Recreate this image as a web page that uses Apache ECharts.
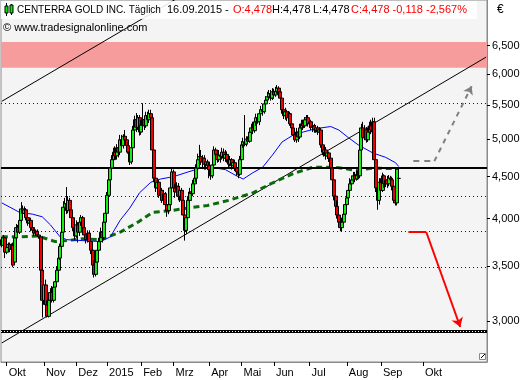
<!DOCTYPE html>
<html><head><meta charset="utf-8">
<script src="https://cdn.jsdelivr.net/npm/echarts@6/dist/echarts.min.js"></script>
<style>html,body{margin:0;padding:0;background:#fff}#c{width:529px;height:380px}</style>
</head><body><div id="c"></div>
<script>
// ---------- data ----------
const startDate = '2014-09-26';
const lastDate = '2015-09-16';
const totalSlots = 300;
const lastLabelSlot = 262;
const holidays = ['2014-12-24','2014-12-25','2014-12-26','2014-12-31','2015-01-01','2015-04-03','2015-04-06','2015-05-01'];
const monthNames = ['Jan','Feb','Mrz','Apr','Mai','Jun','Jul','Aug','Sep','Okt','Nov','Dez'];
const yTicks = [3.0,3.5,4.0,4.5,5.0,5.5,6.0,6.5];
const priceMin = 2.674, priceMax = 7.39;

// [open, close, low, high]
const ohlc = [
[3.77,3.71,3.69,3.80],[3.71,3.79,3.69,3.82],[3.79,3.64,3.58,3.80],[3.64,3.69,3.62,3.72],[3.69,3.72,3.66,3.74],
[3.72,3.67,3.64,3.74],[3.67,3.71,3.65,3.73],[3.71,3.51,3.49,3.74],[3.54,3.79,3.52,3.82],[3.79,3.90,3.77,3.94],
[3.90,3.85,3.82,3.93],[3.85,3.98,3.83,4.01],[3.98,4.11,3.96,4.19],[4.11,4.06,4.03,4.15],[4.06,4.10,4.04,4.14],
[4.10,4.01,3.98,4.12],[4.01,3.95,3.92,4.04],[3.95,3.98,3.92,4.01],[3.98,3.90,3.86,4.01],[3.90,3.87,3.84,3.92],
[3.87,3.84,3.81,3.90],[3.84,3.86,3.81,3.88],[3.86,3.82,3.80,3.88],[3.82,3.80,3.78,3.85],[3.80,3.46,3.41,3.82],
[3.46,3.18,3.03,3.51],[3.18,3.32,3.14,3.46],[3.32,3.14,3.09,3.37],[3.14,3.04,3.03,3.18],[3.04,3.18,3.03,3.22],
[3.18,3.25,3.15,3.29],[3.25,3.18,3.16,3.31],[3.18,3.30,3.16,3.33],[3.30,3.35,3.27,3.38],[3.35,3.46,3.33,3.50],
[3.46,3.58,3.43,3.62],[3.58,3.70,3.56,3.73],[3.70,3.85,3.68,3.88],[3.85,4.13,3.83,4.20],[4.13,4.17,4.05,4.24],
[4.17,4.09,4.05,4.37],[4.09,4.21,4.06,4.26],[4.21,4.10,4.08,4.24],[4.10,4.01,3.97,4.12],[4.01,3.90,3.86,4.04],
[3.90,3.81,3.77,3.93],[3.81,3.93,3.79,3.98],[3.93,3.85,3.74,3.96],[3.85,3.96,3.81,4.01],[3.96,4.01,3.92,4.04],
[4.01,3.90,3.85,4.03],[3.90,3.82,3.79,3.93],[3.82,3.77,3.73,3.85],[3.77,3.84,3.74,3.87],[3.84,3.75,3.70,3.87],
[3.75,3.66,3.62,3.79],[3.66,3.51,3.46,3.69],[3.51,3.42,3.39,3.56],[3.42,3.54,3.40,3.61],[3.54,3.66,3.50,3.70],
[3.66,3.75,3.62,3.79],[3.75,3.85,3.71,3.90],[3.85,3.79,3.74,3.91],[3.79,3.96,3.77,4.04],[3.96,4.06,3.92,4.10],
[4.06,4.27,4.03,4.31],[4.27,4.46,4.24,4.51],[4.46,4.61,4.41,4.66],[4.61,4.72,4.56,4.78],[4.72,4.82,4.68,4.88],
[4.82,4.77,4.72,4.90],[4.77,4.88,4.72,4.93],[4.88,4.82,4.75,4.99],[4.82,4.99,4.78,5.06],[4.99,4.91,4.85,5.06],
[4.91,5.04,4.87,5.07],[5.04,4.99,4.92,5.13],[4.99,4.91,4.88,5.04],[4.91,4.82,4.80,4.96],[4.82,4.69,4.65,4.88],
[4.69,4.88,4.66,4.93],[4.88,5.13,4.85,5.19],[5.13,5.28,5.09,5.34],[5.28,5.17,5.10,5.38],[5.17,5.31,5.13,5.35],
[5.31,5.10,5.05,5.35],[5.10,5.20,5.06,5.28],[5.20,5.28,5.16,5.53],[5.28,5.19,5.13,5.34],[5.19,5.34,5.16,5.40],
[5.34,5.28,5.23,5.40],[5.28,5.37,5.23,5.43],[5.37,5.31,5.25,5.43],[5.31,4.85,4.82,5.34],[4.85,4.48,4.43,4.90],
[4.48,4.36,4.31,4.56],[4.36,4.43,4.29,4.48],[4.43,4.27,4.24,4.46],[4.27,4.33,4.21,4.38],[4.33,4.21,4.18,4.36],
[4.21,4.29,4.16,4.33],[4.29,4.16,4.10,4.31],[4.16,4.09,4.02,4.21],[4.09,4.16,4.05,4.21],[4.16,4.36,4.13,4.41],
[4.36,4.56,4.33,4.62],[4.56,4.36,4.31,4.59],[4.36,4.31,4.24,4.41],[4.31,4.38,4.26,4.43],[4.38,4.26,4.21,4.42],
[4.26,4.33,4.19,4.38],[4.33,4.21,4.17,4.36],[4.21,4.04,3.98,4.24],[4.04,3.87,3.76,4.07],[3.87,4.01,3.83,4.05],
[4.01,4.21,3.96,4.26],[4.21,4.31,4.16,4.36],[4.31,4.29,4.21,4.38],[4.29,4.41,4.26,4.46],[4.41,4.48,4.36,4.53],
[4.48,4.61,4.43,4.66],[4.61,4.72,4.56,4.80],[4.72,4.76,4.66,4.92],[4.76,4.69,4.65,4.85],[4.69,4.74,4.61,4.78],
[4.74,4.66,4.59,4.78],[4.66,4.69,4.59,4.72],[4.69,4.64,4.59,4.72],[4.64,4.59,4.48,4.69],[4.59,4.51,4.46,4.64],
[4.51,4.65,4.48,4.72],[4.65,4.85,4.61,4.90],[4.85,4.79,4.72,4.88],[4.79,4.72,4.68,4.85],[4.72,4.78,4.69,4.85],
[4.78,4.76,4.68,4.82],[4.76,4.82,4.72,4.88],[4.82,4.74,4.70,4.87],[4.74,4.79,4.69,4.85],[4.79,4.72,4.68,4.83],
[4.72,4.66,4.62,4.77],[4.66,4.72,4.63,4.77],[4.72,4.64,4.59,4.74],[4.64,4.68,4.60,4.72],[4.68,4.61,4.57,4.72],
[4.61,4.56,4.51,4.65],[4.56,4.53,4.48,4.61],[4.53,4.72,4.51,4.77],[4.72,4.92,4.69,4.97],[4.92,4.96,4.88,5.02],
[4.96,4.93,4.90,5.35],[4.93,5.00,4.90,5.04],[5.00,4.97,4.93,5.04],[4.97,5.10,4.95,5.16],[5.10,5.16,5.04,5.22],
[5.16,5.12,5.07,5.25],[5.12,5.25,5.09,5.29],[5.25,5.31,5.19,5.37],[5.31,5.25,5.22,5.35],[5.25,5.37,5.20,5.43],
[5.37,5.43,5.31,5.49],[5.43,5.40,5.34,5.52],[5.40,5.52,5.37,5.58],[5.52,5.58,5.46,5.64],[5.58,5.63,5.53,5.71],
[5.63,5.68,5.58,5.74],[5.68,5.61,5.57,5.74],[5.61,5.71,5.58,5.77],[5.71,5.66,5.60,5.76],[5.66,5.72,5.63,5.79],
[5.72,5.77,5.68,5.82],[5.77,5.71,5.65,5.80],[5.71,5.61,5.58,5.76],[5.61,5.43,5.37,5.66],[5.43,5.34,5.29,5.49],
[5.34,5.40,5.28,5.46],[5.40,5.31,5.26,5.43],[5.31,5.37,5.25,5.41],[5.37,5.22,5.19,5.40],[5.22,5.16,5.12,5.28],
[5.16,5.06,5.02,5.20],[5.06,4.99,4.96,5.10],[4.99,5.10,4.95,5.16],[5.10,5.03,4.96,5.15],[5.03,5.16,5.00,5.22],
[5.16,5.22,5.12,5.28],[5.22,5.19,5.13,5.28],[5.19,5.28,5.16,5.32],[5.28,5.31,5.24,5.35],[5.31,5.22,5.18,5.35],
[5.22,5.25,5.16,5.29],[5.25,5.17,5.13,5.28],[5.17,5.19,5.10,5.23],[5.19,5.13,5.09,5.22],[5.13,5.16,5.09,5.20],
[5.16,5.10,5.06,5.19],[5.10,5.13,5.07,5.17],[5.13,4.92,4.88,5.16],[4.92,4.82,4.78,4.96],[4.82,4.85,4.76,4.90],
[4.85,4.77,4.72,4.89],[4.77,4.81,4.73,4.85],[4.81,4.74,4.69,4.83],[4.74,4.61,4.59,4.77],[4.61,4.46,4.42,4.68],
[4.46,4.26,4.21,4.51],[4.26,4.14,4.10,4.31],[4.14,4.04,4.00,4.21],[4.04,3.96,3.93,4.10],[3.96,3.90,3.86,4.01],
[3.90,3.96,3.86,4.01],[3.96,4.05,3.93,4.10],[4.05,4.16,4.00,4.21],[4.16,4.24,4.10,4.27],[4.24,4.33,4.19,4.38],
[4.33,4.41,4.29,4.48],[4.41,4.46,4.36,4.51],[4.46,4.51,4.43,4.56],[4.51,4.47,4.43,4.56],[4.47,4.53,4.45,4.58],
[4.53,4.51,4.46,4.58],[4.51,4.85,4.48,4.90],[4.85,5.16,4.82,5.22],[5.16,5.02,4.96,5.25],[5.02,5.13,4.99,5.20],
[5.13,4.99,4.95,5.17],[4.99,5.10,4.96,5.16],[5.10,5.19,5.07,5.25],[5.19,5.13,5.07,5.28],[5.13,5.25,5.10,5.31],
[5.25,4.72,4.69,5.31],[4.72,4.36,4.31,4.78],[4.36,4.21,4.10,4.43],[4.21,4.43,4.16,4.48],[4.43,4.33,4.29,4.48],
[4.33,4.51,4.31,4.55],[4.51,4.41,4.36,4.53],[4.41,4.46,4.37,4.50],[4.46,4.41,4.36,4.51],[4.41,4.48,4.38,4.52],
[4.48,4.46,4.41,4.51],[4.46,4.38,4.33,4.50],[4.38,4.21,4.18,4.43],[4.21,4.18,4.15,4.26],[4.18,4.596,4.15,4.62],
[4.478,4.478,4.478,4.478]
];

// moving averages: [bar index, price]
const maBlue = [[0,4.18],[5,4.13],[11,4.07],[19,4.05],[25,4.02],[30,3.93],[36,3.80],[40,3.77],[50,3.76],[61,3.75],[67,3.80],[73,3.98],[79,4.12],[85,4.30],[92,4.43],[98,4.47],[106,4.50],[115,4.56],[123,4.61],[129,4.62],[138,4.59],[144,4.52],[149,4.47],[155,4.55],[161,4.62],[167,4.78],[173,4.96],[180,5.06],[186,5.10],[194,5.15],[203,5.18],[208,5.13],[214,5.02],[220,4.92],[229,4.81],[237,4.75],[243,4.68],[245,4.63]];
const maGreen = [[0,3.80],[11,3.80],[22,3.81],[33,3.75],[40,3.76],[50,3.78],[61,3.77],[73,3.85],[84,3.96],[93,4.07],[104,4.09],[115,4.12],[127,4.15],[140,4.21],[155,4.30],[167,4.42],[180,4.54],[192,4.62],[206,4.62],[219,4.58],[229,4.61],[245,4.60]];

// drawn lines: [bar index, price]
const channelLow = [[0,2.821],[299,6.296]];
const channelHigh = [[0,5.56],[110,7.46]];
const blackLevel = 4.627;
const bottomLevel = 2.909;
const dottedLevels = [5.527, 4.258, 3.874, 3.479];
const redZone = [6.11, 6.57];
const grayPathFlat = [[254,4.70],[267,4.70]];
const grayPathUp = [[267,4.70],[290,5.80]];
const redPathFlat = [[251,3.852],[262,3.852]];
const redPathDown = [[262,3.852],[283,2.95]];

// ---------- build ----------
function ymd(d){return d.toISOString().slice(0,10);}
const categories = [];
{
  let d = new Date(startDate+'T00:00:00Z');
  const end = new Date(lastDate+'T00:00:00Z');
  while (d <= end) {
    const wd = d.getUTCDay();
    if (wd !== 0 && wd !== 6 && holidays.indexOf(ymd(d)) < 0) categories.push(ymd(d));
    d = new Date(d.getTime()+86400000);
  }
  while (categories.length < totalSlots) {
    categories.push(ymd(d));
    d = new Date(d.getTime()+86400000);
  }
}
const monthStart = {};
for (let i=1;i<categories.length && i<=lastLabelSlot;i++){
  if (categories[i].slice(5,7)!==categories[i-1].slice(5,7)) monthStart[i]=true;
}
const L = Math.log;
const lg = arr => arr.map(p=>[p[0], L(p[1])]);

const chart = echarts.init(document.getElementById('c'), null, {renderer:'canvas'});
const FONT = 'Liberation Sans, Arial, sans-serif';
const hline = (v, color, width, type) => ({yAxis: L(v), lineStyle:{color, width, type}});

chart.setOption({
  animation:false,
  backgroundColor:'#ffffff',
  grid:{left:1,right:42,top:0,bottom:18,show:true,backgroundColor:'#f4f4f4',borderColor:'#8a8a8a',borderWidth:1},
  xAxis:{
    type:'category', data:categories, boundaryGap:true,
    axisLine:{show:true,lineStyle:{color:'#8a8a8a'}},
    axisTick:{show:true,alignWithLabel:true,length:4,interval:(i)=>!!monthStart[i],lineStyle:{color:'#000'}},
    axisLabel:{interval:(i)=>!!monthStart[i],align:'left',margin:5,color:'#000',fontSize:11,fontFamily:FONT,padding:[0,0,0,2],
      formatter:(v)=>{const m=+v.slice(5,7);return m===1?v.slice(0,4):monthNames[m-1];}},
    splitLine:{show:false}
  },
  yAxis:{
    type:'value', position:'right', min:L(priceMin), max:L(priceMax), scale:true,
    axisLine:{show:true,lineStyle:{color:'#8a8a8a'}},
    axisTick:{show:true,length:3,customValues:yTicks.map(L),lineStyle:{color:'#000'}},
    axisLabel:{customValues:yTicks.map(L),margin:5,color:'#000',fontSize:11,fontFamily:FONT,
      formatter:(v)=>Math.exp(v).toFixed(3).replace('.',',')},
    splitLine:{show:false}
  },
  series:[
    {type:'line',data:[],silent:true,
      markArea:{silent:true,itemStyle:{color:'#f79c9c'},data:[[{yAxis:L(redZone[0])},{yAxis:L(redZone[1])}]]},
      markLine:{silent:true,symbol:'none',label:{show:false},
        data:[
          ...dottedLevels.map(v=>hline(v,'#0000ff',1,[1,3])),
          hline(blackLevel,'#000',2,'solid'),
          hline(bottomLevel,'#000',3,'solid'),
          {yAxis:L(bottomLevel)-0.0028,lineStyle:{color:'#ffffff',width:1,type:[1,2]}}
        ]}},
    {type:'line',data:lg(channelLow),symbol:'none',silent:true,lineStyle:{color:'#000',width:1},z:3},
    {type:'line',data:lg(channelHigh),symbol:'none',silent:true,lineStyle:{color:'#000',width:1},z:3},
    {type:'line',data:lg(maGreen),symbol:'none',silent:true,lineStyle:{color:'#0b6b0b',width:3,type:[6,4]},z:4},
    {type:'line',data:lg(maBlue),symbol:'none',silent:true,lineStyle:{color:'#0000ff',width:1},z:4},
    {type:'candlestick',data:ohlc.map(r=>r.map(L)),barWidth:3.5,z:5,
      itemStyle:{color:'#11f011',color0:'#f00000',borderColor:'#000',borderColor0:'#000',borderWidth:1}},
    {type:'lines',coordinateSystem:'cartesian2d',silent:true,z:6,symbol:'none',
      lineStyle:{color:'#808080',width:2,type:[6,5],opacity:1},
      data:[{coords:lg(grayPathFlat)}]},
    {type:'lines',coordinateSystem:'cartesian2d',silent:true,z:6,symbol:['none','arrow'],symbolSize:8,
      lineStyle:{color:'#808080',width:2,type:[5,5],opacity:1},
      data:[{coords:lg(grayPathUp)}]},
    {type:'lines',coordinateSystem:'cartesian2d',silent:true,z:6,symbol:'none',
      lineStyle:{color:'#ff0000',width:2,opacity:1},
      data:[{coords:lg(redPathFlat)}]},
    {type:'lines',coordinateSystem:'cartesian2d',silent:true,z:6,symbol:['none','arrow'],symbolSize:9,
      lineStyle:{color:'#ff0000',width:2,opacity:1},
      data:[{coords:lg(redPathDown)}]}
  ],
  graphic:[
    {type:'rect',z:100,shape:{x:1,y:1,width:476,height:18},style:{fill:'rgba(255,255,255,0.88)'}},
    {type:'line',z:101,shape:{x1:6.5,y1:3,x2:6.5,y2:16},style:{stroke:'#000',lineWidth:1}},
    {type:'rect',z:102,shape:{x:5,y:6,width:3,height:7},style:{fill:'#00ee00',stroke:'#000',lineWidth:1}},
    {type:'line',z:101,shape:{x1:11.5,y1:4,x2:11.5,y2:15},style:{stroke:'#000',lineWidth:1}},
    {type:'rect',z:102,shape:{x:10,y:5,width:3,height:8},style:{fill:'#00ee00',stroke:'#000',lineWidth:1}},
    {type:'text',z:102,style:{x:17,y:10,text:'CENTERRA GOLD INC. Täglich',font:'10px '+FONT,fill:'#000',verticalAlign:'middle'}},
    {type:'text',z:102,style:{x:167,y:10,text:'16.09.2015 -',font:'11px '+FONT,fill:'#000',verticalAlign:'middle'}},
    {type:'text',z:102,style:{x:233,y:10,text:'O:4,478',font:'11px '+FONT,fill:'#ff0000',verticalAlign:'middle'}},
    {type:'text',z:102,style:{x:272,y:10,text:'H:4,478',font:'11px '+FONT,fill:'#000',verticalAlign:'middle'}},
    {type:'text',z:102,style:{x:313,y:10,text:'L:4,478',font:'11px '+FONT,fill:'#000',verticalAlign:'middle'}},
    {type:'text',z:102,style:{x:351,y:10,text:'C:4,478 -0,118 -2,567%',font:'11px '+FONT,fill:'#ff0000',verticalAlign:'middle'}},
    {type:'text',z:102,style:{x:3,y:28,text:'© www.tradesignalonline.com',font:'11px '+FONT,fill:'#000',verticalAlign:'middle'}},
    {type:'text',z:102,style:{x:497,y:10,text:'€',font:'12px '+FONT,fill:'#000',verticalAlign:'middle'}},
    {type:'rect',z:102,shape:{x:479.5,y:353.5,width:6,height:6},style:{fill:'#fff',stroke:'#8a8a8a',lineWidth:1}},
    {type:'line',z:103,shape:{x1:481,y1:358,x2:485,y2:354},style:{stroke:'#000',lineWidth:1}}
  ]
});
</script></body></html>
